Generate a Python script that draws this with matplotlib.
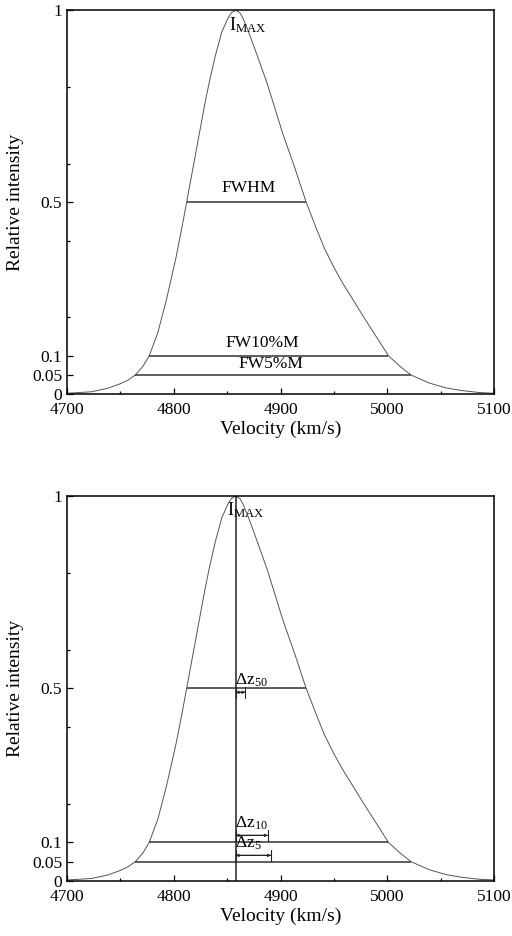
import matplotlib
matplotlib.use("Agg")
import matplotlib.pyplot as plt

# profile
velocity = [4700, 4723, 4738, 4749, 4757, 4764, 4771, 4777, 4785, 4793,
            4802, 4808, 4812, 4818, 4824, 4829, 4833, 4839, 4845, 4851,
            4854, 4858, 4862, 4865, 4870, 4878, 4887, 4893, 4902, 4913,
            4924, 4933, 4941, 4950, 4958, 4968, 4978, 4990, 5001, 5012,
            5022, 5030, 5039, 5055, 5070, 5086, 5100]
intensity = [0.002, 0.006, 0.015, 0.026, 0.036, 0.05, 0.072, 0.10, 0.16, 0.245,
             0.355, 0.44, 0.5, 0.59, 0.68, 0.755, 0.81, 0.883, 0.944, 0.981,
             0.994, 1.0, 0.993, 0.978, 0.944, 0.883, 0.813, 0.76, 0.679, 0.592,
             0.5, 0.435, 0.38, 0.33, 0.29, 0.245, 0.20, 0.148, 0.10, 0.072,
             0.05, 0.04, 0.029, 0.016, 0.009, 0.004, 0.002]

peak_v = 4858
levels = [0.5, 0.1, 0.05]
left_v = [4812, 4777, 4764]
right_v = [4924, 5001, 5022]
width_names = ["FWHM", "FW10%M", "FW5%M"]
width_label_v = [4870, 4883, 4891]
shift_v = [4867, 4888, 4891]
shift_names = [r"$\mathrm{\Delta z_{50}}$", r"$\mathrm{\Delta z_{10}}$", r"$\mathrm{\Delta z_{5}}$"]

xticks = [4700, 4800, 4900, 5000, 5100]
yticks = [0, 0.05, 0.1, 0.5, 1]
yticklabels = ["0", "0.05", "0.1", "0.5", "1"]

plt.rcParams['font.family'] = ['Liberation Serif', 'DejaVu Serif']
plt.rcParams['mathtext.fontset'] = 'custom'
plt.rcParams['mathtext.rm'] = 'Liberation Serif'
plt.rcParams['mathtext.it'] = 'Liberation Serif:italic'

fig = plt.figure(figsize=(5.12, 9.36), dpi=100)
ax1 = fig.add_axes([0.131, 0.579, 0.834, 0.410])
ax2 = fig.add_axes([0.131, 0.059, 0.834, 0.411])


def setup(ax):
    ax.set_xlim(4700, 5100)
    ax.set_ylim(0, 1)
    ax.set_xticks(xticks)
    ax.set_xticks([4750, 4850, 4950, 5050], minor=True)
    ax.set_yticks(yticks)
    ax.set_yticklabels(yticklabels)
    ax.set_yticks([0.2, 0.4, 0.6, 0.8], minor=True)
    ax.tick_params(which='both', direction='in', labelsize=12.5, width=0.9)
    ax.tick_params(which='major', length=4)
    ax.tick_params(which='minor', length=2)
    ax.tick_params(axis='x', pad=6)
    for s in ax.spines.values():
        s.set_linewidth(1.1)
    ax.set_xlabel("Velocity (km/s)", fontsize=14, labelpad=2)
    ax.set_ylabel("Relative intensity", fontsize=14, labelpad=6)
    ax.plot(velocity, intensity, color='#555555', lw=0.7)
    for lv, l, r in zip(levels, left_v, right_v):
        ax.hlines(lv, l, r, color='#333333', lw=1.1)


setup(ax1)
ax1.text(4869, 0.988, r"$\mathrm{I_{MAX}}$", ha='center', va='top', fontsize=13)
label_y = [0.515, 0.112, 0.058]
for lv, name, lx, ly in zip(levels, width_names, width_label_v, label_y):
    ax1.text(lx, ly, name, ha='center', va='bottom', fontsize=12.5)

setup(ax2)
ax2.vlines(peak_v, 0, 1, color='#222222', lw=1.1)
ax2.text(4867, 0.988, r"$\mathrm{I_{MAX}}$", ha='center', va='top', fontsize=13)
arrow_y = [0.49, 0.118, 0.066]
for sv, ay, name in zip(shift_v, arrow_y, shift_names):
    for style in ['<->', '|-|']:
        ax2.annotate("", xy=(sv, ay), xytext=(peak_v, ay),
                     arrowprops=dict(arrowstyle=style, lw=0.8, color='#222222',
                                     mutation_scale=4, shrinkA=0, shrinkB=0))
    ax2.text(peak_v - 1, ay + 0.008, name, ha='left', va='bottom', fontsize=12.5)

fig.savefig("out.png", dpi=100)
